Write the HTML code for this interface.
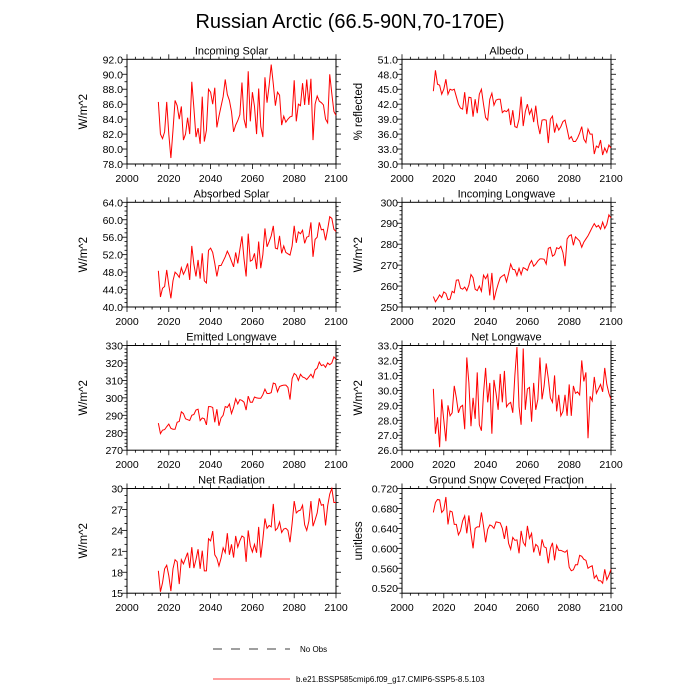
<!DOCTYPE html>
<html><head><meta charset="utf-8"><style>
html,body{margin:0;padding:0;background:#fff;}
svg{display:block;font-family:"Liberation Sans",sans-serif;}
</style></head><body>
<svg id="chart" width="700" height="700" viewBox="0 0 700 700">
<text x="350" y="28" text-anchor="middle" font-size="20" fill="#000">Russian Arctic (66.5-90N,70-170E)</text>
<g>
<line x1="213" y1="649" x2="290" y2="649" stroke="#000" stroke-width="0.8" stroke-dasharray="9,9"/>
<text x="300" y="652" font-size="8">No Obs</text>
<line x1="213" y1="679" x2="290" y2="679" stroke="#f00" stroke-width="0.8"/>
<text x="296" y="682" font-size="8">b.e21.BSSP585cmip6.f09_g17.CMIP6-SSP5-8.5.103</text>
</g>
</svg>
<script>
const years = [];
for (let y = 2015; y <= 2100; y++) years.push(y);
const xTicks = [2000, 2020, 2040, 2060, 2080, 2100];

const incomingSolar = [86.3,82,81.4,82.3,86.3,82,78.8,82.5,86.5,85.8,
84,85.7,81.2,82,84.2,82,89,85.5,81.6,82.8,
80.7,87,81,82.5,88,87.6,86,88.2,82.9,84.4,
85.7,87,89.3,87.3,86.5,85,82.3,83.2,83.8,84.6,
88.9,84,82.8,90.4,83.7,87.6,85.7,82,88.1,83,
81.6,89.6,86.2,88.5,91.3,88.7,85.8,87.6,87.2,83.2,
84.4,83.6,84,84.3,84.4,89.2,83.7,86,85.8,88.8,
85.9,89.3,85.9,89.4,81.2,86,87.1,86.4,86.2,85.9,
84,83.5,90,87.4,85,84.5];
const albedo = [44.6,48.8,46,45.8,44,45,47,44,45,44.8,
45,43.5,42,41.2,41,44.4,40,43.4,43.3,39.5,
43,40.2,44,45,42,39.3,38.8,43,44.2,41.8,
42.8,43,43,40.3,40.7,40.5,41,37.8,40.8,37.5,
37.3,39,43.5,37.6,40.5,42,40,41,38.4,41.7,
38,36,38.8,38.9,38.8,34.2,39,39.6,36.3,38,
36.8,37.5,38.5,38.8,37,35,35.5,34.5,34.5,35.2,
36.2,37.5,35,34.3,37,36,36,32,33.6,33.3,
34.8,31.8,33.2,32.3,33.8,33.2];
const absorbedSolar = [48.3,42.3,44.3,44.7,48.5,45,42,46,48,47.5,
46.8,49,47.5,48.5,50,46.2,54,49.8,47,50.8,
46.5,52.3,46,45.5,53,53.5,52.5,50,47,49.5,
49.5,50.5,51.5,52.8,51.8,50.5,49.2,52.5,50,53.2,
56.2,51,47,56.8,50.5,50.8,52.3,48.7,55,48.9,
52,58,53.8,55,56.3,58.6,53.5,53.3,56.3,52.3,
54,52.5,52.2,51.9,54,58.6,54.7,57.2,56.8,57.6,
54.6,56,56.2,59.4,51.5,55.5,56,59.4,57.7,57.8,
55.3,57.8,60.7,60.3,57.8,57.3];
const incomingLW = [255,252.5,254,255.8,254.5,257.2,256.5,253.5,253.8,257.5,
256.8,262.8,263,259,258.5,259.5,257.8,260.5,265.5,264,
258.5,257.8,260,257.5,265.2,263.5,265.5,255.5,266.3,253.3,
257.5,261,264,264.8,265.5,262,266,270.5,268,267.8,
265,268.5,265.5,268.8,268.3,267.5,270.5,272.2,269.5,270.5,
272,273,273,272.8,270.5,278,278.5,274.3,275,278.3,
277.8,279,276,269.5,282.5,284,284.5,279.5,283.5,282.5,
281.5,278.5,281,282.5,284,286,288,289.8,288.2,289,
287.2,290.5,287.5,289.5,294,292.5];
const emittedLW = [285.5,279.5,281.5,281.8,283.5,285,282.5,282,282,286,
286.5,292,291,288,287.5,287,290,290.5,293,293.5,
287,288.5,288,284.5,295,295,294.5,286,293.5,284,
288.5,290,295,294.5,296.5,291,294.5,299.5,296.5,299,
298.5,297.5,293,301,297.5,297.5,300.5,300,299.8,299.8,
301.8,305,302.5,302.5,303,308.5,308,303.5,306.5,307,
307.3,307.3,306,299,311,314,313,310,313.5,312,
311.5,310.5,312,313.5,311.5,316,317,320.5,318.5,319,
317.5,320,319,320,323.5,322];
const netLW = [30.1,27.1,28.2,26.2,29.4,28,26.6,29,28.3,28.5,
30.3,29.5,28.5,28.9,29,27.4,32.2,30.5,27.6,29.5,
28.1,31.2,27.7,27.3,29.8,31.5,29.2,30.5,27.1,30.7,
29.8,28.7,31.1,29.2,31.3,28.9,29.1,29.2,28.5,31,
32.9,28.9,27.7,32.8,28.7,30.1,30.2,27.9,30.5,28.7,
29.4,32.2,29.4,30.3,31.8,30.8,29.5,29.2,31,28.6,
29.7,28.3,28.6,29.7,28.3,30.4,28.3,30.3,29.8,29.9,
29.7,32,30.6,31.2,26.8,29.6,29.3,30.9,29.8,30.1,
30.4,29.9,31.5,30.4,29.8,29.4];
const netRad = [18.2,15.2,16.5,18.5,19,17.5,15.3,18.5,19.8,19.5,
16.3,19.8,19.2,20,20.8,18.6,21.6,18.6,19.8,21.3,
18.5,21.1,18.2,18.2,22.8,22.5,23.9,20.5,20,18.9,
20,21.5,20.8,23.6,20.5,22,20.1,23.2,21.6,22.5,
23.2,23,19.5,24,21.8,20.9,22,20.8,24.5,20.1,
22.7,25.7,24.3,24.7,24.5,27.8,24,24.3,25.2,23.7,
24.2,24.3,24,22.3,25,28.2,26.5,26.8,26.9,27.6,
24.8,24,25.3,28.2,24.6,25.5,26.5,28.6,27.6,27.7,
24.7,27.5,29.2,30,28,28];
const snowFrac = [.672,.692,.698,.697,.672,.677,.703,.648,.675,.673,
.648,.648,.627,.635,.655,.665,.630,.666,.630,.600,
.640,.643,.643,.672,.645,.612,.638,.647,.645,.640,
.653,.652,.651,.640,.619,.645,.610,.598,.622,.616,
.617,.590,.635,.612,.605,.645,.620,.630,.592,.608,
.604,.585,.618,.603,.601,.570,.600,.611,.576,.606,
.596,.596,.594,.592,.596,.562,.555,.557,.567,.567,
.586,.584,.578,.576,.560,.563,.565,.540,.546,.535,
.535,.530,.558,.537,.546,.558];

const incomingSolarTicks = [78,80,82,84,86,88,90,92];
const albedoTicks = [30,33,36,39,42,45,48,51];
const absorbedSolarTicks = [40,44,48,52,56,60,64];
const incomingLWTicks = [250,260,270,280,290,300];
const emittedLWTicks = [270,280,290,300,310,320,330];
const netLWTicks = [26,27,28,29,30,31,32,33];
const netRadTicks = [15,18,21,24,27,30];
const snowTicks = [0.52,0.56,0.60,0.64,0.68,0.72];

const NS = "http://www.w3.org/2000/svg";
const svg = document.getElementById('chart');
function mk(tag, attrs, parent) {
  const e = document.createElementNS(NS, tag);
  for (const k in attrs) e.setAttribute(k, attrs[k]);
  parent.appendChild(e);
  return e;
}

const panels = [
  {key:'incoming-solar', title:'Incoming Solar', ylab:'W/m^2', data:incomingSolar, ticks:incomingSolarTicks, ymin:78, ymax:92, dec:1, minorN:2, col:0, row:0},
  {key:'albedo', title:'Albedo', ylab:'% reflected', data:albedo, ticks:albedoTicks, ymin:30, ymax:51, dec:1, minorN:3, col:1, row:0},
  {key:'absorbed-solar', title:'Absorbed Solar', ylab:'W/m^2', data:absorbedSolar, ticks:absorbedSolarTicks, ymin:40, ymax:64, dec:1, minorN:4, col:0, row:1},
  {key:'incoming-longwave', title:'Incoming Longwave', ylab:'W/m^2', data:incomingLW, ticks:incomingLWTicks, ymin:250, ymax:300, dec:0, minorN:5, col:1, row:1},
  {key:'emitted-longwave', title:'Emitted Longwave', ylab:'W/m^2', data:emittedLW, ticks:emittedLWTicks, ymin:270, ymax:330, dec:0, minorN:5, col:0, row:2},
  {key:'net-longwave', title:'Net Longwave', ylab:'W/m^2', data:netLW, ticks:netLWTicks, ymin:26, ymax:33, dec:1, minorN:5, col:1, row:2},
  {key:'net-radiation', title:'Net Radiation', ylab:'W/m^2', data:netRad, ticks:netRadTicks, ymin:15, ymax:30, dec:0, minorN:3, col:0, row:3},
  {key:'snow-fraction', title:'Ground Snow Covered Fraction', ylab:'unitless', data:snowFrac, ticks:snowTicks, ymin:0.51, ymax:0.72, dec:3, minorN:4, col:1, row:3}
];

const colX = [127, 402];
const rowY = [59.3, 202.3, 345.5, 488.5];
const W = 209, H = 104.7;

panels.forEach(p => {
  const x0 = colX[p.col], y0 = rowY[p.row];
  const g = mk('g', {}, svg);
  
  
  const xs = v => x0 + (v - 2000) / 100 * W;
  const ys = v => y0 + H - (v - p.ymin) / (p.ymax - p.ymin) * H;

  const t = mk('text', {x: x0 + W/2, y: y0 - 5, 'text-anchor':'middle', 'font-size':'11'}, g);
  
  
  t.textContent = p.title;

  const box = mk('rect', {x:x0, y:y0, width:W, height:H, fill:'none', stroke:'#000', 'stroke-width':'1'}, g);
  
  

  for (let v = 2000; v <= 2100; v += 4) {
    const major = (v % 20 === 0);
    const L = major ? 5 : 2.5;
    const xx = xs(v);
    mk('line', {x1:xx, y1:y0 + H, x2:xx, y2:y0 + H + L, stroke:'#000', 'stroke-width':'0.8'}, g);
    mk('line', {x1:xx, y1:y0, x2:xx, y2:y0 - L, stroke:'#000', 'stroke-width':'0.8'}, g);
  }
  xTicks.forEach(v => {
    const tl = mk('text', {x: xs(v), y: y0 + H + 18, 'text-anchor':'middle', 'font-size':'10.5'}, g);
    
    
    tl.textContent = v;
  });
  const step = p.ticks[1] - p.ticks[0];
  const ms = step / p.minorN;
  for (let v = p.ticks[0] - ms * p.minorN; v <= p.ymax + 1e-9; v += ms) {
    if (v < p.ymin - 1e-9) continue;
    const rel = (v - p.ticks[0]) / step;
    const major = Math.abs(rel - Math.round(rel)) < 1e-6;
    const L = major ? 5 : 2.5;
    const yy = ys(v);
    mk('line', {x1:x0, y1:yy, x2:x0 - L, y2:yy, stroke:'#000', 'stroke-width':'0.8'}, g);
    mk('line', {x1:x0 + W, y1:yy, x2:x0 + W + L, y2:yy, stroke:'#000', 'stroke-width':'0.8'}, g);
  }
  p.ticks.forEach(v => {
    const tl = mk('text', {x: x0 - 4, y: ys(v) + 4, 'text-anchor':'end', 'font-size':'10.5'}, g);
    
    
    tl.textContent = v.toFixed(p.dec);
  });
  const yl = mk('text', {x:0, y:0, 'text-anchor':'middle', 'font-size':'11.5',
    transform:'translate(' + (x0 - 40) + ',' + (y0 + H/2) + ') rotate(-90)'}, g);
  
  
  yl.textContent = p.ylab;

  const pts = p.data.map((v, i) => xs(years[i]).toFixed(2) + ',' + ys(v).toFixed(2)).join(' ');
  const line = mk('polyline', {points: pts, fill:'none', stroke:'#f00', 'stroke-width':'1'}, g);
  
  
});
</script>
</body></html>
